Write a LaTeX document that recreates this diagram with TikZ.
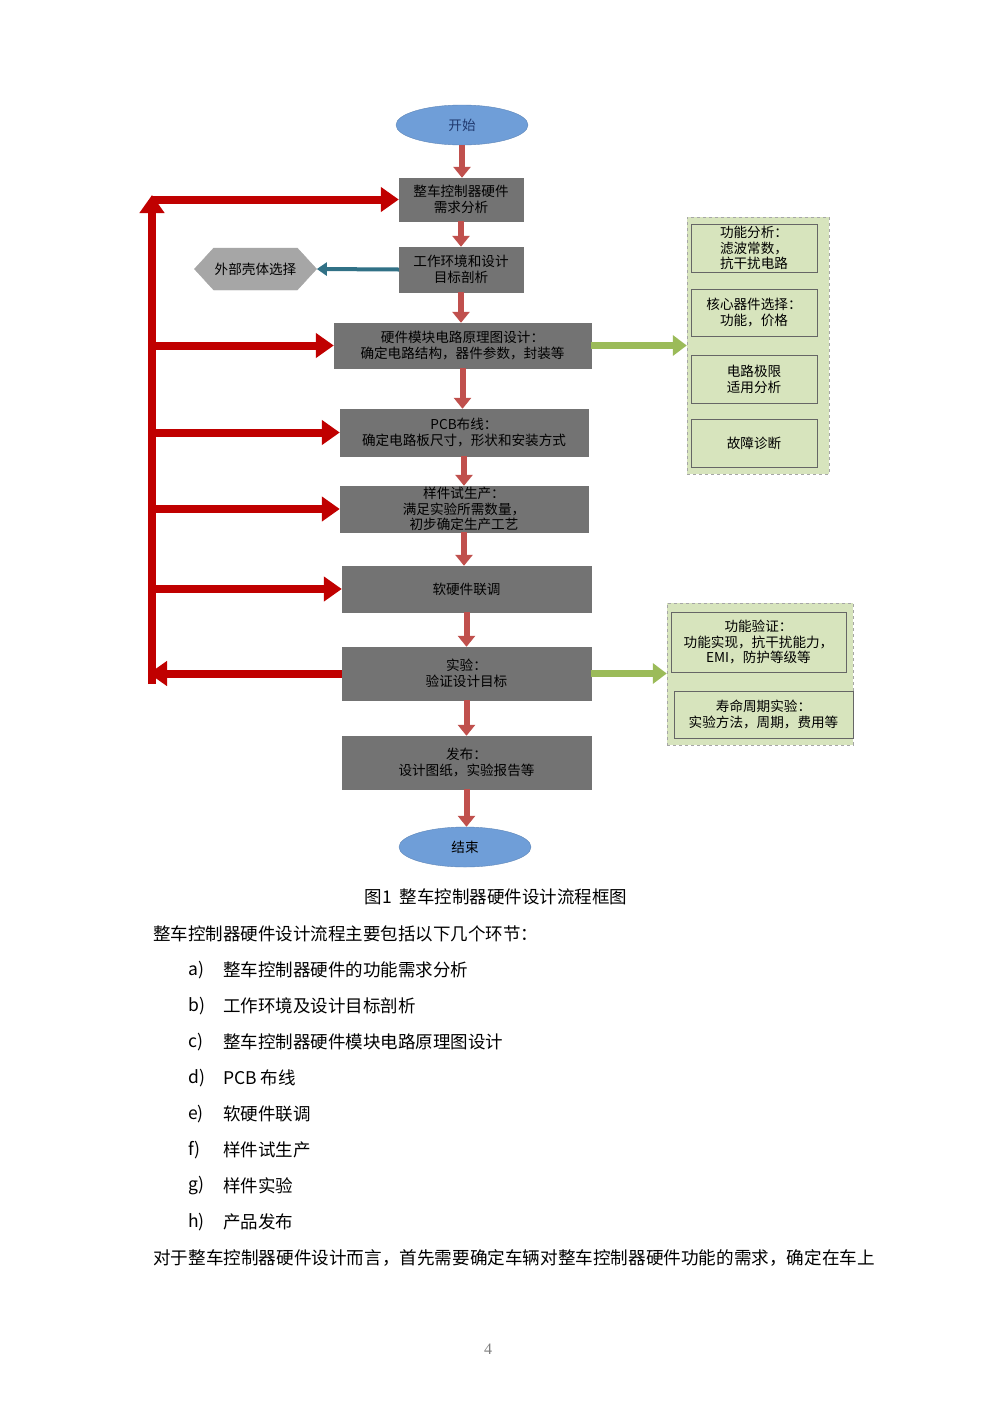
\documentclass[tikz,border=0pt]{standalone}
\usepackage{fontspec}
\setmainfont{Noto Sans CJK SC}
\newfontfamily\seriffont{Liberation Serif}
\usetikzlibrary{arrows.meta,shapes.geometric,shapes.symbols}
\definecolor{boxgray}{RGB}{115,115,115}
\definecolor{ellblue}{RGB}{111,158,216}
\definecolor{fbred}{RGB}{192,0,0}
\definecolor{dnred}{RGB}{192,80,77}
\definecolor{arrteal}{RGB}{49,113,134}
\definecolor{grnarr}{RGB}{155,187,89}
\definecolor{grnfill}{RGB}{215,228,189}
\definecolor{hexgray}{RGB}{166,166,166}
\definecolor{navytext}{RGB}{31,56,110}
\tikzset{
  boxfont/.style={font=\fontsize{13.6}{15.8}\selectfont},
  proc/.style={boxfont, draw=black!55, fill=boxgray, text=black, align=center, inner sep=0pt},
  term/.style={boxfont, ellipse, draw=ellblue!85!black, fill=ellblue, inner sep=0pt, minimum width=132pt, minimum height=40pt},
  panel/.style={draw=gray!70, dashed, fill=grnfill, inner sep=0pt},
  ibox/.style={boxfont, draw=gray!80!black, fill=grnfill, align=center, inner sep=0pt},
  dnarr/.style={draw=dnred, line width=6pt, -{Triangle[width=17pt,length=11pt]}},
  fbarr/.style={draw=fbred, line width=8pt, -{Triangle[width=24pt,length=18pt]}},
  grarr/.style={draw=grnarr, line width=7pt, -{Triangle[width=20pt,length=14pt]}},
  tlarr/.style={draw=arrteal, line width=4pt, -{Triangle[width=13pt,length=10pt]}},
  bodytext/.style={font=\fontsize{17.5}{20}\selectfont, inner sep=0pt, anchor=west},
}
\begin{document}
\begin{tikzpicture}[x=1pt,y=-1pt]
\useasboundingbox[fill=white] (0,0) rectangle (992,1403);

% terminals
\node[term, text=navytext] (start) at (462,125) {开始};
\node[term] (end) at (465,847) {结束};

% process boxes
\node[proc, minimum width=124pt, minimum height=43pt] (b1) at (461,199.5) {整车控制器硬件\\需求分析};
\node[proc, minimum width=124pt, minimum height=45pt] (b2) at (461,269.5) {工作环境和设计\\目标剖析};
\node[proc, minimum width=257pt, minimum height=45pt] (b3) at (462.5,345.5) {硬件模块电路原理图设计：\\确定电路结构，器件参数，封装等};
\node[proc, minimum width=248pt, minimum height=47pt] (b4) at (464,432.5) {PCB布线：\\确定电路板尺寸，形状和安装方式};
\node[proc, minimum width=248pt, minimum height=46pt] (b5) at (464,509) {样件试生产：\\满足实验所需数量，\\初步确定生产工艺};
\node[proc, minimum width=249pt, minimum height=46pt] (b6) at (466.5,589) {软硬件联调};
\node[proc, minimum width=249pt, minimum height=53pt] (b7) at (466.5,673.5) {实验：\\验证设计目标};
\node[proc, minimum width=249pt, minimum height=53pt] (b8) at (466.5,762.5) {发布：\\设计图纸，实验报告等};

% hexagon
\node[boxfont, signal, signal to=west and east, signal pointer angle=95, fill=hexgray, draw=hexgray, inner sep=1pt, minimum width=117pt, minimum height=42pt] (hex) at (255.5,269) {外部壳体选择};

% green panels
\node[panel, minimum width=142pt, minimum height=257pt] (gp1) at (758,345.5) {};
\node[ibox, minimum width=126pt, minimum height=48pt] (g1) at (754,248) {功能分析：\\滤波常数，\\抗干扰电路};
\node[ibox, minimum width=126pt, minimum height=47pt] (g2) at (754,312.5) {核心器件选择：\\功能，价格};
\node[ibox, minimum width=126pt, minimum height=48pt] (g3) at (754,379) {电路极限\\适用分析};
\node[ibox, minimum width=126pt, minimum height=48pt] (g4) at (754,443) {故障诊断};

\node[panel, minimum width=186pt, minimum height=142pt] (gp2) at (760,674) {};
\node[ibox, minimum width=175pt, minimum height=60pt] (h1) at (758.5,642) {功能验证：\\功能实现，抗干扰能力，\\EMI，防护等级等};
\node[ibox, minimum width=179pt, minimum height=47pt] (h2) at (763.5,714.5) {寿命周期实验：\\实验方法，周期，费用等};

% down arrows
\draw[dnarr] (start.south) -- (start.south |- b1.north);
\draw[dnarr] (b1.south) -- (b1.south |- b2.north);
\draw[dnarr] (b2.south) -- (b2.south |- b3.north);
\draw[dnarr] (b3.south) -- (b3.south |- b4.north);
\draw[dnarr] (b4.south) -- (b4.south |- b5.north);
\draw[dnarr] (b5.south) -- (b5.south |- b6.north);
\draw[dnarr] (b6.south) -- (b6.south |- b7.north);
\draw[dnarr] (b7.south) -- (b7.south |- b8.north);
\draw[dnarr] (b8.south) -- (b8.south |- end.north);

% teal arrow
\draw[tlarr] (b2.west) -- (hex.east);

% green arrows
\draw[grarr] (b3.east) -- (b3.east -| gp1.west);
\draw[grarr] (b7.east) -- (b7.east -| gp2.west);

% feedback loop
\coordinate (fbB) at (152,684);
\coordinate (fbT) at (152,195);
\coordinate (fbR) at (149,675);
\draw[fbarr] (fbB) -- (fbT);
\draw[fbarr] (b7.west) -- (fbR |- b7.west);
\draw[fbarr] (fbT |- b1.west) -- (b1.west);
\draw[fbarr] (fbT |- b3.west) -- (b3.west);
\draw[fbarr] (fbT |- b4.west) -- (b4.west);
\draw[fbarr] (fbT |- b5.west) -- (b5.west);
\draw[fbarr] (fbT |- b6.west) -- (b6.west);

% caption and body text
\node[font=\fontsize{17.5}{19}\selectfont, inner sep=0pt] (cap) at (496,897) {图1\ \ 整车控制器硬件设计流程框图};
\node[bodytext] (p1) at (153,934) {整车控制器硬件设计流程主要包括以下几个环节：};
\node[bodytext] (la) at (188,970) {a)}; \node[bodytext] (ta) at (223,970) {整车控制器硬件的功能需求分析};
\node[bodytext] (lb) at (188,1006) {b)}; \node[bodytext] (tb) at (223,1006) {工作环境及设计目标剖析};
\node[bodytext] (lc) at (188,1042) {c)}; \node[bodytext] (tc) at (223,1042) {整车控制器硬件模块电路原理图设计};
\node[bodytext] (ld) at (188,1078) {d)}; \node[bodytext] (td) at (223,1078) {PCB 布线};
\node[bodytext] (le) at (188,1114) {e)}; \node[bodytext] (te) at (223,1114) {软硬件联调};
\node[bodytext] (lf) at (188,1150) {f)}; \node[bodytext] (tf) at (223,1150) {样件试生产};
\node[bodytext] (lg) at (188,1186) {g)}; \node[bodytext] (tg) at (223,1186) {样件实验};
\node[bodytext] (lh) at (188,1222) {h)}; \node[bodytext] (th) at (223,1222) {产品发布};
\node[bodytext, font=\fontsize{17.6}{20}\selectfont] (p2) at (153,1258) {对于整车控制器硬件设计而言，首先需要确定车辆对整车控制器硬件功能的需求，确定在车上};
\node[font=\seriffont\fontsize{16}{18}\selectfont, text=gray, inner sep=0pt] (pg) at (488,1349) {4};
\end{tikzpicture}
\end{document}
